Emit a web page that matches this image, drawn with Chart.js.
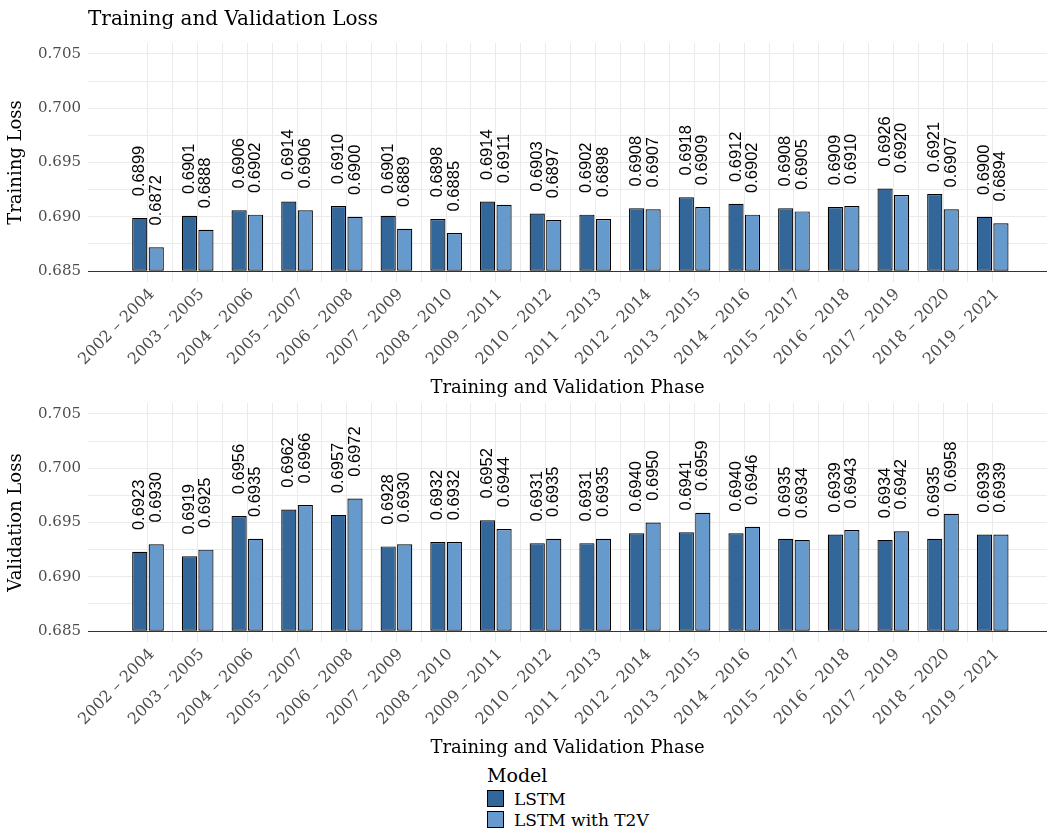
<!DOCTYPE html>
<html>
<head>
<meta charset="utf-8">
<title>Training and Validation Loss</title>
<script src="https://cdn.jsdelivr.net/npm/chart.js@4.4.1/dist/chart.umd.min.js"></script>
<style>
  html, body { margin: 0; padding: 0; background: #ffffff; }
  #page { position: relative; width: 1047px; height: 829px; overflow: hidden; background: #ffffff; }
  .panel { position: absolute; left: 0; width: 1047px; height: 400px; }
  #trainPanel { top: 0; }
  #valPanel { top: 360px; }
  #legend { position: absolute; left: 487px; top: 764px; font-family: "DejaVu Serif", serif; color: #000; }
  #legend .ttl { font-size: 19px; line-height: 22px; margin-bottom: 2px; }
  #legend .item { display: flex; align-items: center; height: 21px; font-size: 17px; }
  #legend .sw { width: 15px; height: 15px; border: 1px solid #000; margin-right: 10px; box-sizing: content-box; }
</style>
</head>
<body>
<div id="page">
  <div class="panel" id="trainPanel"><canvas id="trainChart" width="1047" height="400"></canvas></div>
  <div class="panel" id="valPanel"><canvas id="valChart" width="1047" height="400"></canvas></div>
  <div id="legend"></div>
</div>
<script>
// Rolling training / validation windows
const periods = [
  '2002 – 2004', '2003 – 2005', '2004 – 2006', '2005 – 2007', '2006 – 2008', '2007 – 2009',
  '2008 – 2010', '2009 – 2011', '2010 – 2012', '2011 – 2013', '2012 – 2014', '2013 – 2015',
  '2014 – 2016', '2015 – 2017', '2016 – 2018', '2017 – 2019', '2018 – 2020', '2019 – 2021'
];

// Training loss per window
const lstmTrain = [0.6899, 0.6901, 0.6906, 0.6914, 0.6910, 0.6901, 0.6898, 0.6914, 0.6903,
                   0.6902, 0.6908, 0.6918, 0.6912, 0.6908, 0.6909, 0.6926, 0.6921, 0.6900];
const t2vTrain  = [0.6872, 0.6888, 0.6902, 0.6906, 0.6900, 0.6889, 0.6885, 0.6911, 0.6897,
                   0.6898, 0.6907, 0.6909, 0.6902, 0.6905, 0.6910, 0.6920, 0.6907, 0.6894];

// Validation loss per window
const lstmVal = [0.6923, 0.6919, 0.6956, 0.6962, 0.6957, 0.6928, 0.6932, 0.6952, 0.6931,
                 0.6931, 0.6940, 0.6941, 0.6940, 0.6935, 0.6939, 0.6934, 0.6935, 0.6939];
const t2vVal  = [0.6930, 0.6925, 0.6935, 0.6966, 0.6972, 0.6930, 0.6932, 0.6944, 0.6935,
                 0.6935, 0.6950, 0.6959, 0.6946, 0.6934, 0.6943, 0.6942, 0.6958, 0.6939];

const seriesNames = ['LSTM', 'LSTM with T2V'];
const yTickValues = [0.685, 0.690, 0.695, 0.700, 0.705];

// ---- styling ----
const COLORS = ['#336699', '#6699CC'];
const SERIF = '"DejaVu Serif", serif';
const BAR_BASE = 0.685;
const LABEL_NUDGE = 0.002;

// gridlines: every labelled tick plus the midpoints between them
const yGrid = [];
yTickValues.forEach((v, i) => {
  yGrid.push(v);
  if (i < yTickValues.length - 1) yGrid.push((v + yTickValues[i + 1]) / 2);
});
// vertical gridlines at each window and halfway between neighbours
const xGrid = [];
for (let k = 0; k <= (periods.length - 1) * 2; k++) xGrid.push(k / 2);

const isTick = v => yTickValues.some(t => Math.abs(t - v) < 1e-9);

// Rotated value labels above each bar and the baseline rule drawn over the bars
const barDecor = {
  id: 'barDecor',
  afterDatasetsDraw(chart) {
    const { ctx, chartArea } = chart;
    const ys = chart.scales.y;
    ctx.save();
    ctx.strokeStyle = '#333333';
    ctx.lineWidth = 1.1;
    const by = Math.round(ys.getPixelForValue(BAR_BASE)) + 0.5;
    ctx.beginPath();
    ctx.moveTo(chartArea.left, by);
    ctx.lineTo(chartArea.right, by);
    ctx.stroke();
    ctx.restore();

    ctx.save();
    ctx.font = '16.5px "Liberation Sans", Arial, sans-serif';
    ctx.fillStyle = '#000000';
    ctx.textAlign = 'left';
    ctx.textBaseline = 'middle';
    chart.data.datasets.forEach((ds, di) => {
      const meta = chart.getDatasetMeta(di);
      meta.data.forEach((bar, i) => {
        const v = ds.data[i].y;
        ctx.save();
        ctx.translate(bar.x, ys.getPixelForValue(v + LABEL_NUDGE));
        ctx.rotate(-Math.PI / 2);
        ctx.fillText(v.toFixed(4), 0, 0);
        ctx.restore();
      });
    });
    ctx.restore();
  }
};

// Plot heading, left-aligned with the panel
const heading = {
  id: 'heading',
  afterDraw(chart, args, opts) {
    if (!opts.text) return;
    const { ctx, chartArea } = chart;
    ctx.save();
    ctx.font = '20px ' + SERIF;
    ctx.fillStyle = '#000000';
    ctx.textAlign = 'left';
    ctx.textBaseline = 'alphabetic';
    ctx.fillText(opts.text, chartArea.left, 25);
    ctx.restore();
  }
};

function makeChart(canvasId, lstm, t2v, yTitle, headingText) {
  const series = [lstm, t2v];
  return new Chart(document.getElementById(canvasId), {
    type: 'bar',
    data: {
      datasets: series.map((vals, s) => ({
        label: seriesNames[s],
        data: vals.map((v, i) => ({ x: i, y: v })),
        backgroundColor: COLORS[s],
        borderColor: '#000000',
        borderWidth: 1.2,
        borderSkipped: false,
        base: BAR_BASE,
        // the bar ruler sees the half-step gridline ticks, so the group
        // spans 1.328 half-steps (0.664 of one window)
        categoryPercentage: 1.328,
        barPercentage: 0.92
      }))
    },
    options: {
      responsive: false,
      animation: false,
      devicePixelRatio: 1,
      layout: { padding: { top: 43, right: 0, bottom: 0, left: 0 } },
      plugins: {
        legend: { display: false },
        tooltip: { enabled: false },
        heading: { text: headingText }
      },
      scales: {
        x: {
          type: 'linear',
          offset: false,
          min: -1.2075,
          max: 18.093,
          afterBuildTicks(scale) { scale.ticks = xGrid.map(v => ({ value: v })); },
          afterFit(scale) { scale.height = 118; },
          grid: { color: '#ebebeb', lineWidth: 1, drawTicks: false, offset: false },
          border: { display: false },
          ticks: {
            autoSkip: false,
            minRotation: 45,
            maxRotation: 45,
            padding: 3,
            labelOffset: 4,
            color: '#4d4d4d',
            font: { family: SERIF, size: 16 },
            callback: v => Number.isInteger(v) ? periods[v] : ''
          },
          title: {
            display: true,
            text: 'Training and Validation Phase',
            color: '#000000',
            font: { family: SERIF, size: 18 },
            padding: { top: 0, bottom: 1 }
          }
        },
        y: {
          min: 0.684,
          max: 0.706,
          afterBuildTicks(scale) { scale.ticks = yGrid.map(v => ({ value: v })); },
          afterFit(scale) { scale.width = 88; },
          grid: { color: '#ebebeb', lineWidth: 1, drawTicks: false },
          border: { display: false },
          ticks: {
            padding: 7,
            color: '#4d4d4d',
            font: { family: SERIF, size: 15 },
            callback: v => isTick(v) ? v.toFixed(3) : ''
          },
          title: {
            display: true,
            text: yTitle,
            color: '#000000',
            font: { family: SERIF, size: 18 },
            padding: { top: 6, bottom: 0 }
          }
        }
      }
    },
    plugins: [barDecor, heading]
  });
}

makeChart('trainChart', lstmTrain, t2vTrain, 'Training Loss', 'Training and Validation Loss');
makeChart('valChart', lstmVal, t2vVal, 'Validation Loss', '');

// Legend
const legend = document.getElementById('legend');
const ttl = document.createElement('div');
ttl.className = 'ttl';
ttl.textContent = 'Model';
legend.appendChild(ttl);
seriesNames.forEach((name, s) => {
  const item = document.createElement('div');
  item.className = 'item';
  const sw = document.createElement('span');
  sw.className = 'sw';
  sw.style.background = COLORS[s];
  const lbl = document.createElement('span');
  lbl.textContent = name;
  item.appendChild(sw);
  item.appendChild(lbl);
  legend.appendChild(item);
});
</script>
</body>
</html>
